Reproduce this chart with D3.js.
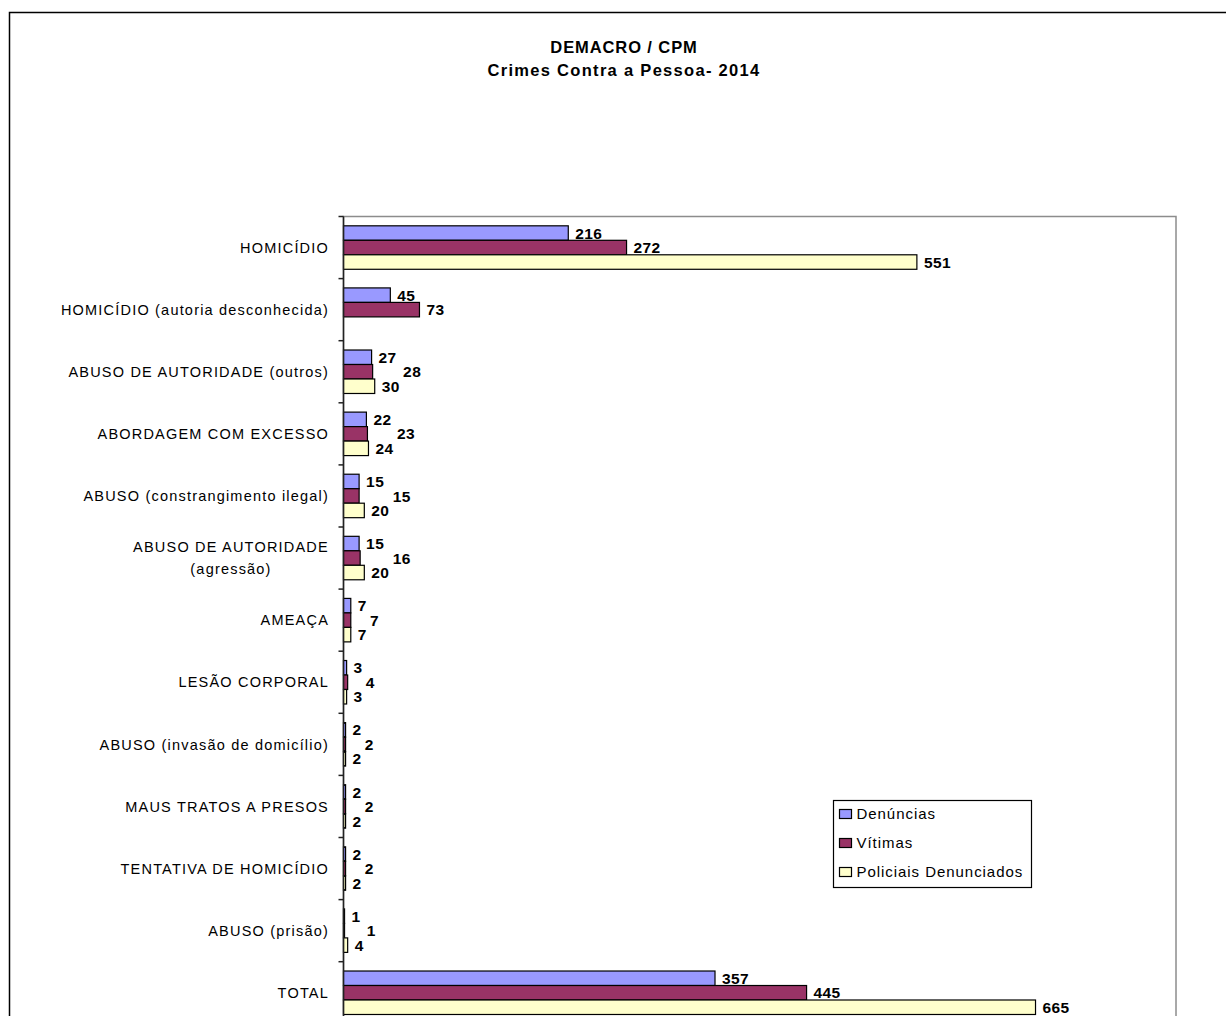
<!DOCTYPE html>
<html>
<head>
<meta charset="utf-8">
<script src="https://cdn.jsdelivr.net/npm/d3@7"></script>
<style>
  html, body { margin: 0; padding: 0; background: #fff; }
  svg { display: block; font-family: "Liberation Sans", Arial, sans-serif; }
</style>
</head>
<body>
<svg id="chart" width="1226" height="1016"></svg>
<script>
// ---- data ----
const categories = [
  "HOMICÍDIO",
  "HOMICÍDIO (autoria desconhecida)",
  "ABUSO DE AUTORIDADE (outros)",
  "ABORDAGEM COM EXCESSO",
  "ABUSO (constrangimento ilegal)",
  "ABUSO DE AUTORIDADE\n(agressão)",
  "AMEAÇA",
  "LESÃO CORPORAL",
  "ABUSO (invasão de domicílio)",
  "MAUS TRATOS A PRESOS",
  "TENTATIVA DE HOMICÍDIO",
  "ABUSO (prisão)",
  "TOTAL"
];
const seriesNames = ["Denúncias", "Vítimas", "Policiais Denunciados"];
const denuncias = [216, 45, 27, 22, 15, 15, 7, 3, 2, 2, 2, 1, 357];
const vitimas   = [272, 73, 28, 23, 15, 16, 7, 4, 2, 2, 2, 1, 445];
const policiais = [551, null, 30, 24, 20, 20, 7, 3, 2, 2, 2, 4, 665];
const seriesValues = [denuncias, vitimas, policiais];
const xDomainMax = 800;
const titleLines = ["DEMACRO / CPM", "Crimes Contra a Pessoa- 2014"];

// ---- layout ----
const colors = ["#9999FF", "#993366", "#FFFFCC"];
const svg = d3.select("#chart");
const plot = { left: 343.5, top: 216.5, right: 1176, step: 62.1 };
plot.bottom = plot.top + categories.length * plot.step;

// outer frame
svg.append("rect")
  .attr("x", 9.5).attr("y", 12.5).attr("width", 1300).attr("height", 1100)
  .attr("fill", "none").attr("stroke", "#000").attr("stroke-width", 1.5);

// title
svg.append("g").selectAll("text").data(titleLines).join("text")
  .attr("x", 624).attr("y", (d, i) => 53 + i * 23)
  .attr("text-anchor", "middle")
  .attr("font-size", 16.5).attr("font-weight", "bold")
  .attr("letter-spacing", (d, i) => i === 0 ? 0.9 : 1.3)
  .attr("fill", "#000")
  .text(d => d);

const x = d3.scaleLinear().domain([0, xDomainMax]).range([plot.left, plot.right]);
const y0 = d3.scaleBand().domain(categories).range([plot.top, plot.bottom])
  .paddingInner(0.3).paddingOuter(0.15);
const y1 = d3.scaleBand().domain(seriesNames).range([0, y0.bandwidth()]);

// plot area border (gray)
svg.append("rect")
  .attr("x", plot.left).attr("y", plot.top)
  .attr("width", plot.right - plot.left).attr("height", plot.bottom - plot.top)
  .attr("fill", "#fff").attr("stroke", "#8c8c8c").attr("stroke-width", 1.5);

// bars
const rows = [];
categories.forEach((c, ci) => {
  seriesNames.forEach((s, si) => {
    const v = seriesValues[si][ci];
    if (v !== null && v !== undefined) rows.push({ c, ci, s, si, v });
  });
});

const gBars = svg.append("g");
gBars.selectAll("rect").data(rows).join("rect")
  .attr("x", x(0))
  .attr("y", d => y0(d.c) + y1(d.s))
  .attr("width", d => x(d.v) - x(0))
  .attr("height", y1.bandwidth())
  .attr("fill", d => colors[d.si])
  .attr("stroke", "#000").attr("stroke-width", 1.2);

// value labels: placed after bar end; middle label staggered right when crowded
const digitW = 9.2;
rows.forEach(d => {
  d.lx = x(d.v) + 7;
});
rows.forEach(d => {
  if (d.si !== 1) return;
  const neigh = rows.filter(o => o.ci === d.ci && o.si !== 1);
  const w = String(d.v).length * digitW;
  const crowded = neigh.some(o => Math.abs(o.lx - d.lx) < w);
  if (crowded) d.lx = Math.max(...neigh.map(o => o.lx + String(o.v).length * digitW), d.lx) + 3;
});
svg.append("g").selectAll("text").data(rows).join("text")
  .attr("x", d => d.lx)
  .attr("y", d => y0(d.c) + y1(d.s) + y1.bandwidth() / 2)
  .attr("dy", "0.36em")
  .attr("font-size", 15.5).attr("font-weight", "bold")
  .attr("letter-spacing", 0.4)
  .attr("fill", "#000")
  .text(d => d.v);

// category axis line + ticks
svg.append("line")
  .attr("x1", plot.left).attr("x2", plot.left)
  .attr("y1", plot.top).attr("y2", plot.bottom)
  .attr("stroke", "#222").attr("stroke-width", 1.5);
const tickYs = d3.range(categories.length + 1).map(k => plot.top + k * y0.step());
svg.append("g").selectAll("line").data(tickYs).join("line")
  .attr("x1", plot.left - 5).attr("x2", plot.left)
  .attr("y1", d => d).attr("y2", d => d)
  .attr("stroke", "#222").attr("stroke-width", 1.5);

// category labels
const gCat = svg.append("g");
categories.forEach(c => {
  const lines = c.split("\n");
  const cy = y0(c) + y0.bandwidth() / 2;
  const t = gCat.append("text")
    .attr("font-size", 14.5)
    .attr("letter-spacing", 1.2)
    .attr("fill", "#000");
  if (lines.length === 1) {
    t.attr("x", 329).attr("y", cy).attr("dy", "0.36em")
      .attr("text-anchor", "end").text(c);
  } else {
    t.attr("text-anchor", "middle");
    lines.forEach((ln, i) => {
      t.append("tspan")
        .attr("x", 231)
        .attr("y", cy + (i - (lines.length - 1) / 2) * 22)
        .attr("dy", "0.36em")
        .text(ln);
    });
  }
});

// legend
const lg = svg.append("g");
lg.append("rect")
  .attr("x", 833.5).attr("y", 800.5).attr("width", 198).attr("height", 87)
  .attr("fill", "#fff").attr("stroke", "#000").attr("stroke-width", 1.2);
const items = lg.selectAll("g.item").data(seriesNames).join("g")
  .attr("class", "item")
  .attr("transform", (d, i) => `translate(839.5, ${814 + i * 29})`);
items.append("rect")
  .attr("x", 0).attr("y", -4.5).attr("width", 12).attr("height", 9)
  .attr("fill", (d, i) => colors[i]).attr("stroke", "#000").attr("stroke-width", 1.2);
items.append("text")
  .attr("x", 17).attr("y", 0).attr("dy", "0.36em")
  .attr("font-size", 15).attr("letter-spacing", 0.95)
  .attr("fill", "#000")
  .text(d => d);
</script>
</body>
</html>
